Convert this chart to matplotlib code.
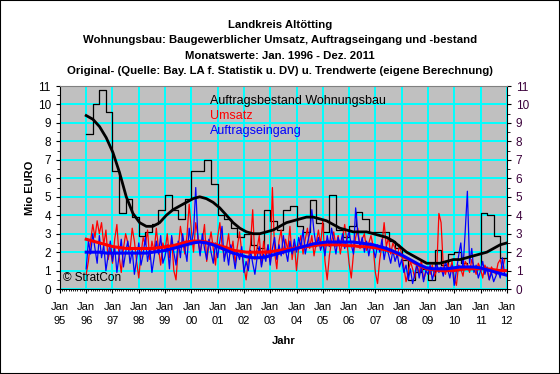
import matplotlib
matplotlib.use("Agg")
import matplotlib.pyplot as plt
import numpy as np
from matplotlib.patches import Rectangle

plt.rcParams['font.family'] = ['Liberation Sans', 'DejaVu Sans']

# Auftragsbestand, Quartalswerte 1996-2011 (Mio EURO)
bestand = [8.4, 10.0, 10.8, 9.6,
           6.4, 4.1, 4.9, 3.9,
           2.9, 3.1, 3.5, 4.3,
           5.1, 4.3, 3.8, 4.9,
           6.4, 6.4, 7.0, 5.7,
           4.0, 3.8, 3.3, 2.8,
           3.0, 2.4, 2.2, 4.3,
           3.7, 3.2, 4.3, 4.5,
           3.4, 3.1, 4.8, 3.6,
           3.1, 5.1, 3.2, 2.8,
           3.4, 4.2, 3.8, 3.1,
           3.1, 3.1, 2.6, 2.2,
           1.6, 0.5, 0.9, 1.1,
           0.5, 2.1, 1.3, 1.9,
           2.0, 1.4, 1.1, 1.1,
           4.1, 4.0, 2.9, 1.7]

# Umsatz, Monatswerte 1996-2011
umsatz = [0.8, 1.5, 2.6, 3.5, 2.8, 3.7, 3.0, 3.6, 2.4, 3.2, 1.6, 2.2,
          1.4, 2.7, 3.5, 1.8, 0.9, 2.2, 3.0, 2.5, 2.1, 3.3, 2.6, 1.5,
          0.6, 1.9, 2.8, 2.4, 3.2, 1.6, 2.6, 2.0, 3.3, 2.2, 1.3, 2.5,
          2.1, 3.0, 1.7, 2.8, 1.0, 0.5, 2.2, 3.4, 2.6, 1.9, 2.9, 4.6,
          3.2, 2.0, 3.6, 2.9, 1.9, 2.6, 3.5, 1.5, 2.4, 3.1, 2.2, 1.3,
          2.8, 3.6, 2.4, 1.7, 2.2, 3.0, 1.9, 2.6, 1.4, 2.3, 3.1, 2.0,
          1.2, 0.5, 1.6, 2.4, 4.3, 1.6, 2.2, 2.9, 1.3, 2.6, 1.8, 2.4,
          1.5, 5.5, 2.0, 1.1, 2.6, 3.2, 1.9, 2.7, 2.1, 3.4, 1.6, 2.5,
          1.0, 2.3, 2.9, 1.9, 2.7, 3.3, 2.2, 2.9, 1.8, 2.5, 3.2, 2.4,
          3.7, 1.5, 0.5, 1.8, 2.6, 3.1, 2.3, 2.9, 1.9, 2.7, 3.5, 2.6,
          1.4, 0.6, 1.9, 2.8, 3.3, 2.2, 2.7, 3.0, 2.1, 2.5, 2.9, 2.3,
          0.9, 0.3, 1.6, 2.4, 3.6, 2.3, 2.8, 1.9, 2.5, 2.2, 1.7, 2.4,
          1.9, 1.2, 0.4, 0.9, 1.5, 1.1, 0.6, 1.3, 0.8, 1.6, 0.5, 0.9,
          1.2, 0.8, 1.3, 0.7, 1.0, 4.1, 3.6, 1.2, 0.8, 1.4, 1.0, 1.5,
          0.6, 0.2, 1.3, 1.1, 0.7, 1.5, 1.3, 0.9, 1.6, 1.2, 0.8, 1.4,
          1.1, 0.6, 1.3, 1.0, 0.5, 1.2, 1.0, 0.8, 1.4, 1.6, 1.1, 1.6]

# Auftragseingang, Monatswerte 1996-2011
eingang = [1.1, 2.6, 1.9, 3.0, 2.2, 1.4, 2.9, 1.7, 2.4, 1.0, 1.8, 2.6,
           1.5, 2.3, 0.9, 1.8, 2.7, 1.2, 2.0, 2.6, 1.4, 2.1, 0.8, 1.6,
           2.5, 1.3, 1.9, 2.8, 1.5, 2.2, 0.9, 1.7, 2.6, 1.9, 2.9, 1.4,
           1.8, 2.4, 1.1, 2.9, 2.0, 1.3, 2.6, 1.7, 3.0, 2.2, 1.5, 3.3,
           2.4, 3.1, 5.5, 2.7, 1.8, 3.0, 2.2, 1.6, 2.7, 2.0, 1.4, 2.5,
           1.7, 2.6, 3.4, 1.5, 2.2, 1.3, 2.4, 1.9, 1.1, 2.0, 1.6, 2.3,
           0.9, 1.5, 1.0, 2.1, 1.4, 0.8, 1.7, 2.3, 1.2, 1.9, 1.5, 2.4,
           1.3, 2.2, 2.8, 1.6, 2.4, 1.8, 2.9, 2.1, 1.5, 2.6, 1.9, 2.7,
           2.0, 2.8, 2.3, 3.2, 1.9, 2.5, 3.0, 4.3, 3.1, 2.3, 2.8, 2.1,
           2.5, 1.8, 2.9, 2.3, 3.3, 2.6, 1.9, 2.8, 2.4, 3.0, 2.2, 2.7,
           3.1, 2.4, 1.9, 4.4, 3.0, 2.3, 2.8, 2.0, 2.6, 1.8, 2.5, 2.2,
           1.7, 2.4, 2.0, 2.7, 1.6, 2.3, 1.9, 1.4, 2.1, 1.5, 1.9, 1.2,
           1.6, 0.9, 1.3, 0.5, 1.1, 0.3, 0.8, 1.4, 0.6, 1.2, 0.4, 1.0,
           0.8, 1.3, 0.5, 1.0, 1.4, 0.9, 1.2, 0.7, 1.5, 1.1, 0.6, 1.3,
           0.2, 1.0, 1.8, 2.5, 1.1, 3.1, 5.3, 1.4, 2.2, 0.9, 1.3, 0.6,
           1.0, 1.5, 0.8, 1.2, 0.5, 0.9, 0.4, 0.7, 1.0, 0.6, 1.7, 0.8]

# Trendwerte (Quartale)
trend_bestand = [9.4, 9.2, 8.8, 8.2, 7.4, 6.3, 5.0, 4.1, 3.6, 3.4, 3.4, 3.6,
                 4.0, 4.3, 4.5, 4.7, 4.9, 5.0, 4.9, 4.7, 4.4, 4.0, 3.6, 3.3,
                 3.1, 3.0, 3.0, 3.1, 3.2, 3.4, 3.6, 3.7, 3.8, 3.9, 3.9, 3.8,
                 3.7, 3.5, 3.3, 3.2, 3.1, 3.1, 3.1, 3.0, 2.9, 2.8, 2.6, 2.3,
                 2.0, 1.8, 1.6, 1.4, 1.4, 1.4, 1.5, 1.6, 1.6, 1.7, 1.8, 1.9,
                 2.0, 2.2, 2.4, 2.5]
trend_umsatz = [2.7, 2.6, 2.5, 2.4, 2.3, 2.25, 2.2, 2.2, 2.2, 2.2, 2.2, 2.25,
                2.3, 2.35, 2.45, 2.55, 2.6, 2.6, 2.55, 2.45, 2.35, 2.25, 2.1, 2.05,
                2.0, 2.0, 2.0, 2.0, 2.05, 2.1, 2.15, 2.2, 2.25, 2.3, 2.35, 2.4,
                2.4, 2.4, 2.4, 2.35, 2.35, 2.3, 2.3, 2.25, 2.2, 2.1, 2.0, 1.85,
                1.65, 1.45, 1.25, 1.1, 1.05, 1.0, 1.0, 1.0, 1.05, 1.1, 1.1, 1.1,
                1.1, 1.05, 1.0, 1.0]
trend_eingang = [2.0, 2.0, 2.0, 1.95, 1.95, 1.95, 1.95, 1.95, 1.95, 1.95, 2.0, 2.05,
                 2.1, 2.2, 2.3, 2.4, 2.5, 2.55, 2.5, 2.4, 2.25, 2.1, 1.95, 1.85,
                 1.75, 1.7, 1.7, 1.75, 1.85, 1.95, 2.05, 2.15, 2.25, 2.35, 2.45, 2.5,
                 2.55, 2.55, 2.55, 2.55, 2.55, 2.5, 2.45, 2.4, 2.3, 2.2, 2.05, 1.9,
                 1.7, 1.5, 1.3, 1.15, 1.1, 1.1, 1.1, 1.15, 1.2, 1.2, 1.2, 1.15,
                 1.05, 0.95, 0.85, 0.75]

jahre = list(range(1995, 2013))

x_m = 1996 + np.arange(len(umsatz)) / 12
x_q = 1996 + np.arange(len(bestand)) / 4
x_t = np.linspace(1996, 2012, len(trend_bestand))

fig = plt.figure(figsize=(5.6, 3.74), dpi=100)
fig.patches.append(Rectangle((0, 0), 1, 1, transform=fig.transFigure,
                             fill=False, edgecolor='black', linewidth=1.5))
ax = fig.add_axes([0.107, 0.227, 0.798, 0.543])
ax.set_facecolor('#C0C0C0')

ax.plot(np.append(x_q, 2012), bestand + [bestand[-1]], drawstyle='steps-post',
        color='black', lw=0.9)
ax.plot(x_m, umsatz, color='#FF0000', lw=0.9)
ax.plot(x_m, eingang, color='#0000FF', lw=0.9)
ax.plot(x_t, trend_bestand, color='black', lw=2.0)
ax.plot(x_t, trend_umsatz, color='#FF0000', lw=2.2)
ax.plot(x_t, trend_eingang, color='#0000FF', lw=2.2)

ax.set_xlim(1995, 2012)
ax.set_ylim(0, 11)
ax.set_xticks(jahre)
ax.set_xticklabels([f"Jan\n{j % 100:02d}" for j in jahre], fontsize=8, linespacing=1.6)
ax.set_xticks(np.arange(1995, 2012, 1 / 12), minor=True)
ax.set_yticks(range(0, 12))
ax.set_yticks(np.arange(0, 11, 0.5), minor=True)
ax.tick_params(axis='y', labelsize=8.5, direction='out', length=3, labelright=True,
               right=True, which='major')
ax.tick_params(axis='y', which='minor', length=2, right=True)
ax.tick_params(axis='x', length=3, pad=6)
ax.tick_params(axis='x', which='minor', length=1.5)
for t in ax.yaxis.get_major_ticks():
    t.label2.set_color('#3a003a')

ax.grid(True, which='major', color='#00FFFF', lw=1.4)
ax.set_axisbelow(True)
ax.spines['top'].set_color('#808080')
for s in ['left', 'right', 'bottom']:
    ax.spines[s].set_color('black')

ax.set_ylabel("Mio EURO", fontsize=8, fontweight='bold', labelpad=2)
ax.set_xlabel("Jahr", fontsize=8, fontweight='bold', labelpad=7)

titel = ["Landkreis Altötting",
         "Wohnungsbau: Baugewerblicher Umsatz, Auftragseingang und -bestand",
         "Monatswerte: Jan. 1996 - Dez. 2011",
         "Original- (Quelle: Bay. LA f. Statistik u. DV) u. Trendwerte (eigene Berechnung)"]
for i, z in enumerate(titel):
    fig.text(0.5, 1 - (25 + 15.3 * i) / 374, z, ha='center', va='center',
             fontsize=8.2, fontweight='bold')

legende = [("Auftragsbestand Wohnungsbau", 'black'),
           ("Umsatz", '#FF0000'),
           ("Auftragseingang", '#0000FF')]
for i, (t, c) in enumerate(legende):
    fig.text(210 / 560, 1 - (101 + 15 * i) / 374, t, color=c, fontsize=9,
             va='center', ha='left')

fig.text(63 / 560, 1 - 278 / 374, "© StratCon", fontsize=8.5, va='center', ha='left')

fig.savefig("out.png", dpi=100)
